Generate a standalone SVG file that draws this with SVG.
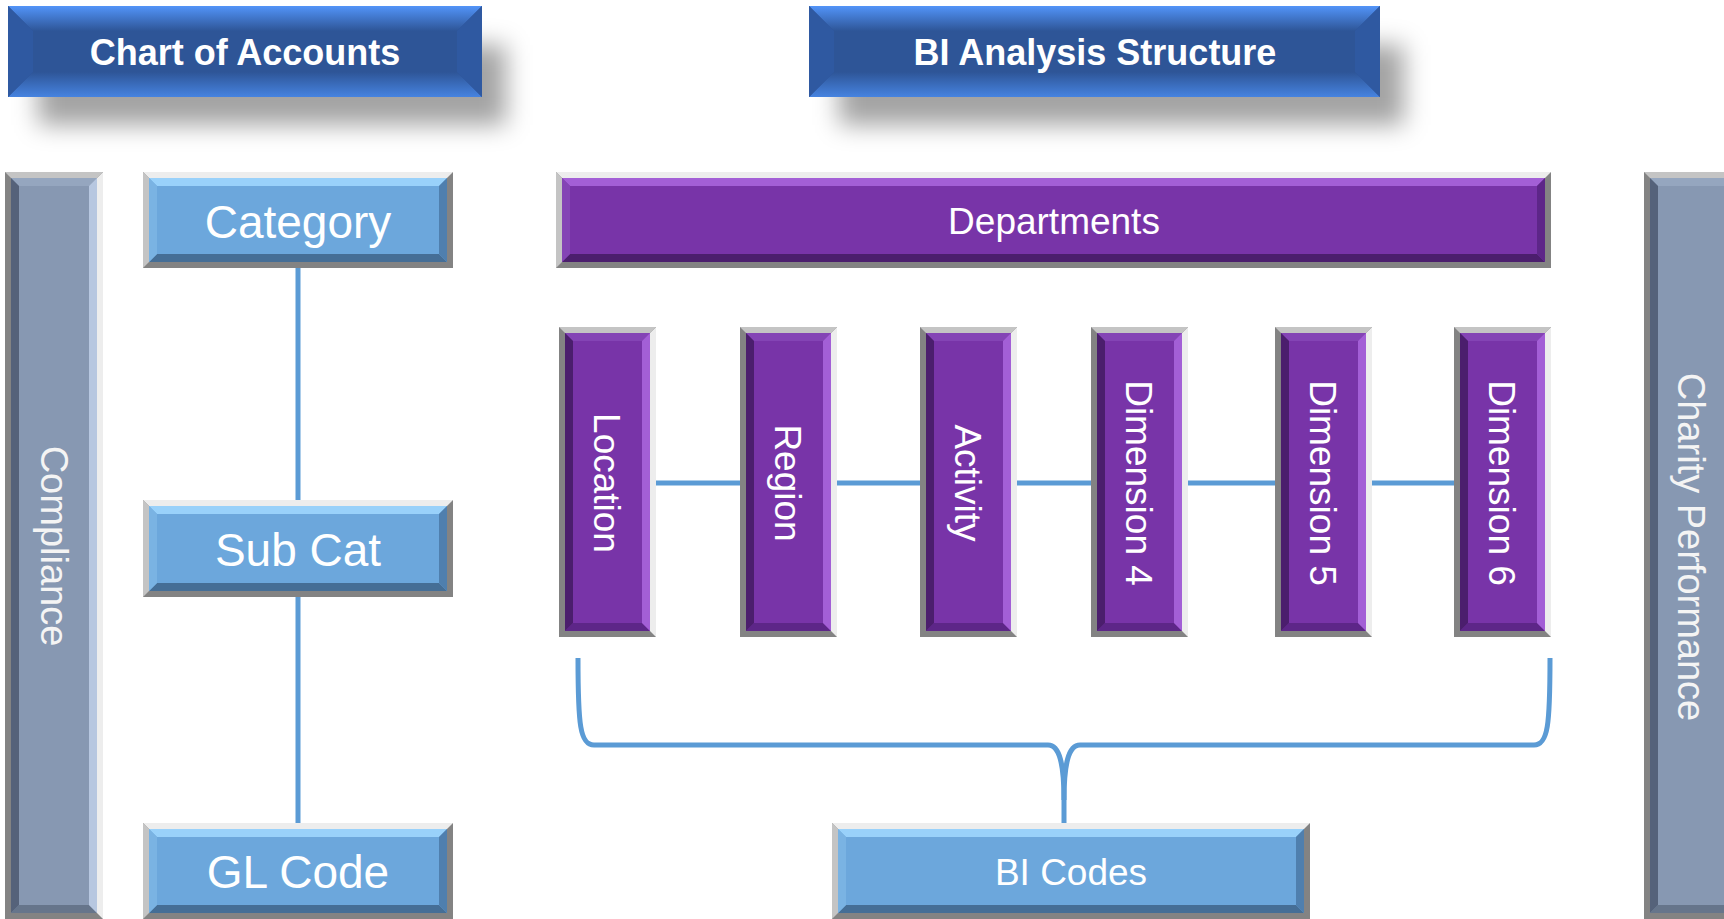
<svg xmlns="http://www.w3.org/2000/svg" width="1724" height="919" viewBox="0 0 1724 919">
<style>
text{font-family:"Liberation Sans",Arial,sans-serif;fill:#fff}
.hdr{font-size:36px;font-weight:bold;text-anchor:middle}
.lbl{font-size:46px;text-anchor:middle}
.lbs{font-size:37px;text-anchor:middle}
.lbg{font-size:38px;text-anchor:middle;fill:#f4f4f4}
.fbase{fill:#838383}.fa{fill:#ededed}.fb{fill:#c4c4c4}
.blue .face{fill:#6ca7dc}.blue .hi{fill:#99d1fa}.blue .m1{fill:#7ab3e3}.blue .m2{fill:#4f7fae}.blue .lo{fill:#456e96}
.purple .face{fill:#7834a8}.purple .hi{fill:#a35fd6}.purple .m1{fill:#8444b5}.purple .m2{fill:#5d2688}.purple .lo{fill:#4b1e6d}
.gray .face{fill:#8798b2}.gray .hi{fill:#b7c7e0}.gray .m1{fill:#95a6bf}.gray .m2{fill:#66758b}.gray .lo{fill:#55627a}
.conn{stroke:#5b9bd5;stroke-width:5;fill:none}
.shadow{fill:#000;fill-opacity:0.36;filter:url(#blur)}
.hface{fill:#2e5597}.hside{fill:#2f59a1}
</style>
<defs>
<filter id="blur" x="-20%" y="-60%" width="140%" height="220%"><feGaussianBlur stdDeviation="12"/></filter>
<linearGradient id="hTop" x1="0" y1="0" x2="0" y2="1"><stop offset="0" stop-color="#5294f8"/><stop offset="1" stop-color="#2e5597"/></linearGradient>
<linearGradient id="hBot" x1="0" y1="0" x2="0" y2="1"><stop offset="0" stop-color="#2e5597"/><stop offset="1" stop-color="#4683e0"/></linearGradient>
</defs>
<rect width="1724" height="919" fill="#fff"/>

<g id="chart-of-accounts">
<rect class="shadow" x="38" y="45" width="468" height="80"/>
<rect class="hface" x="8" y="6" width="474" height="91"/>
<polygon fill="url(#hTop)" points="8,6 482,6 457,31 33,31"/>
<polygon fill="url(#hBot)" points="8,97 482,97 457,72 33,72"/>
<polygon class="hside" points="8,6 33,31 33,72 8,97"/>
<polygon class="hside" points="482,6 457,31 457,72 482,97"/>
<text class="hdr" x="245" y="65">Chart of Accounts</text>
</g>

<g id="bi-analysis-structure">
<rect class="shadow" x="839" y="45" width="565" height="80"/>
<rect class="hface" x="809" y="6" width="571" height="91"/>
<polygon fill="url(#hTop)" points="809,6 1380,6 1355,31 834,31"/>
<polygon fill="url(#hBot)" points="809,97 1380,97 1355,72 834,72"/>
<polygon class="hside" points="809,6 834,31 834,72 809,97"/>
<polygon class="hside" points="1380,6 1355,31 1355,72 1380,97"/>
<text class="hdr" x="1095" y="65">BI Analysis Structure</text>
</g>

<g id="connectors">
<line class="conn" x1="298" y1="268" x2="298" y2="500"/>
<line class="conn" x1="298" y1="597" x2="298" y2="823"/>
<line class="conn" x1="656" y1="483" x2="740" y2="483"/>
<line class="conn" x1="837" y1="483" x2="920" y2="483"/>
<line class="conn" x1="1017" y1="483" x2="1091" y2="483"/>
<line class="conn" x1="1188" y1="483" x2="1275" y2="483"/>
<line class="conn" x1="1372" y1="483" x2="1454" y2="483"/>
<path class="conn" d="M578,658 C578,725 580,745 594,745 L1048,745 C1060,745 1064,765 1064,800 L1064,823"/>
<path class="conn" d="M1550,658 C1550,725 1548,745 1534,745 L1080,745 C1068,745 1064,765 1064,800"/>
</g>

<g id="compliance" class="gray">
<rect class="fbase" x="5" y="172" width="98" height="747"/>
<polygon class="fa" points="103,172 103,919 97,913 97,178"/>
<polygon class="fb" points="5,172 103,172 97,178 11,178"/>
<rect class="face" x="11" y="178" width="86" height="735"/>
<polygon class="m1" points="11,178 97,178 89,186 19,186"/>
<polygon class="m2" points="11,913 97,913 89,905 19,905"/>
<polygon class="lo" points="11,178 19,186 19,905 11,913"/>
<polygon class="hi" points="97,178 89,186 89,905 97,913"/>
<text class="lbg" transform="translate(54,546) rotate(90)" y="13">Compliance</text>
</g>

<g id="charity-performance" class="gray">
<rect class="fbase" x="1644" y="172" width="98" height="747"/>
<polygon class="fa" points="1742,172 1742,919 1736,913 1736,178"/>
<polygon class="fb" points="1644,172 1742,172 1736,178 1650,178"/>
<rect class="face" x="1650" y="178" width="86" height="735"/>
<polygon class="m1" points="1650,178 1736,178 1728,186 1658,186"/>
<polygon class="m2" points="1650,913 1736,913 1728,905 1658,905"/>
<polygon class="lo" points="1650,178 1658,186 1658,905 1650,913"/>
<polygon class="hi" points="1736,178 1728,186 1728,905 1736,913"/>
<text class="lbg" transform="translate(1691,547) rotate(90)" y="13">Charity Performance</text>
</g>

<g id="category" class="blue">
<rect class="fbase" x="143" y="172" width="310" height="96"/>
<polygon class="fa" points="143,172 453,172 447,178 149,178"/>
<polygon class="fb" points="143,172 149,178 149,262 143,268"/>
<rect class="face" x="149" y="178" width="298" height="84"/>
<polygon class="hi" points="149,178 447,178 439,186 157,186"/>
<polygon class="lo" points="149,262 447,262 439,254 157,254"/>
<polygon class="m1" points="149,178 157,186 157,254 149,262"/>
<polygon class="m2" points="447,178 439,186 439,254 447,262"/>
<text class="lbl" x="298" y="238">Category</text>
</g>

<g id="sub-cat" class="blue">
<rect class="fbase" x="143" y="500" width="310" height="97"/>
<polygon class="fa" points="143,500 453,500 447,506 149,506"/>
<polygon class="fb" points="143,500 149,506 149,591 143,597"/>
<rect class="face" x="149" y="506" width="298" height="85"/>
<polygon class="hi" points="149,506 447,506 439,514 157,514"/>
<polygon class="lo" points="149,591 447,591 439,583 157,583"/>
<polygon class="m1" points="149,506 157,514 157,583 149,591"/>
<polygon class="m2" points="447,506 439,514 439,583 447,591"/>
<text class="lbl" x="298" y="566">Sub Cat</text>
</g>

<g id="gl-code" class="blue">
<rect class="fbase" x="143" y="823" width="310" height="96"/>
<polygon class="fa" points="143,823 453,823 447,829 149,829"/>
<polygon class="fb" points="143,823 149,829 149,913 143,919"/>
<rect class="face" x="149" y="829" width="298" height="84"/>
<polygon class="hi" points="149,829 447,829 439,837 157,837"/>
<polygon class="lo" points="149,913 447,913 439,905 157,905"/>
<polygon class="m1" points="149,829 157,837 157,905 149,913"/>
<polygon class="m2" points="447,829 439,837 439,905 447,913"/>
<text class="lbl" x="298" y="888">GL Code</text>
</g>

<g id="departments" class="purple">
<rect class="fbase" x="556" y="172" width="995" height="96"/>
<polygon class="fa" points="556,172 1551,172 1545,178 562,178"/>
<polygon class="fb" points="556,172 562,178 562,262 556,268"/>
<rect class="face" x="562" y="178" width="983" height="84"/>
<polygon class="hi" points="562,178 1545,178 1537,186 570,186"/>
<polygon class="lo" points="562,262 1545,262 1537,254 570,254"/>
<polygon class="m1" points="562,178 570,186 570,254 562,262"/>
<polygon class="m2" points="1545,178 1537,186 1537,254 1545,262"/>
<text class="lbs" x="1054" y="234">Departments</text>
</g>

<g id="location" class="purple">
<rect class="fbase" x="559" y="327" width="97" height="310"/>
<polygon class="fa" points="656,327 656,637 650,631 650,333"/>
<polygon class="fb" points="559,327 656,327 650,333 565,333"/>
<rect class="face" x="565" y="333" width="85" height="298"/>
<polygon class="m1" points="565,333 650,333 642,341 573,341"/>
<polygon class="m2" points="565,631 650,631 642,623 573,623"/>
<polygon class="lo" points="565,333 573,341 573,623 565,631"/>
<polygon class="hi" points="650,333 642,341 642,623 650,631"/>
<text class="lbs" transform="translate(607,483) rotate(90)" y="13">Location</text>
</g>

<g id="region" class="purple">
<rect class="fbase" x="740" y="327" width="97" height="310"/>
<polygon class="fa" points="837,327 837,637 831,631 831,333"/>
<polygon class="fb" points="740,327 837,327 831,333 746,333"/>
<rect class="face" x="746" y="333" width="85" height="298"/>
<polygon class="m1" points="746,333 831,333 823,341 754,341"/>
<polygon class="m2" points="746,631 831,631 823,623 754,623"/>
<polygon class="lo" points="746,333 754,341 754,623 746,631"/>
<polygon class="hi" points="831,333 823,341 823,623 831,631"/>
<text class="lbs" transform="translate(788,483) rotate(90)" y="13">Region</text>
</g>

<g id="activity" class="purple">
<rect class="fbase" x="920" y="327" width="97" height="310"/>
<polygon class="fa" points="1017,327 1017,637 1011,631 1011,333"/>
<polygon class="fb" points="920,327 1017,327 1011,333 926,333"/>
<rect class="face" x="926" y="333" width="85" height="298"/>
<polygon class="m1" points="926,333 1011,333 1003,341 934,341"/>
<polygon class="m2" points="926,631 1011,631 1003,623 934,623"/>
<polygon class="lo" points="926,333 934,341 934,623 926,631"/>
<polygon class="hi" points="1011,333 1003,341 1003,623 1011,631"/>
<text class="lbs" transform="translate(968,483) rotate(90)" y="13">Activity</text>
</g>

<g id="dimension-4" class="purple">
<rect class="fbase" x="1091" y="327" width="97" height="310"/>
<polygon class="fa" points="1188,327 1188,637 1182,631 1182,333"/>
<polygon class="fb" points="1091,327 1188,327 1182,333 1097,333"/>
<rect class="face" x="1097" y="333" width="85" height="298"/>
<polygon class="m1" points="1097,333 1182,333 1174,341 1105,341"/>
<polygon class="m2" points="1097,631 1182,631 1174,623 1105,623"/>
<polygon class="lo" points="1097,333 1105,341 1105,623 1097,631"/>
<polygon class="hi" points="1182,333 1174,341 1174,623 1182,631"/>
<text class="lbs" transform="translate(1139,483) rotate(90)" y="13">Dimension 4</text>
</g>

<g id="dimension-5" class="purple">
<rect class="fbase" x="1275" y="327" width="97" height="310"/>
<polygon class="fa" points="1372,327 1372,637 1366,631 1366,333"/>
<polygon class="fb" points="1275,327 1372,327 1366,333 1281,333"/>
<rect class="face" x="1281" y="333" width="85" height="298"/>
<polygon class="m1" points="1281,333 1366,333 1358,341 1289,341"/>
<polygon class="m2" points="1281,631 1366,631 1358,623 1289,623"/>
<polygon class="lo" points="1281,333 1289,341 1289,623 1281,631"/>
<polygon class="hi" points="1366,333 1358,341 1358,623 1366,631"/>
<text class="lbs" transform="translate(1323,483) rotate(90)" y="13">Dimension 5</text>
</g>

<g id="dimension-6" class="purple">
<rect class="fbase" x="1454" y="327" width="97" height="310"/>
<polygon class="fa" points="1551,327 1551,637 1545,631 1545,333"/>
<polygon class="fb" points="1454,327 1551,327 1545,333 1460,333"/>
<rect class="face" x="1460" y="333" width="85" height="298"/>
<polygon class="m1" points="1460,333 1545,333 1537,341 1468,341"/>
<polygon class="m2" points="1460,631 1545,631 1537,623 1468,623"/>
<polygon class="lo" points="1460,333 1468,341 1468,623 1460,631"/>
<polygon class="hi" points="1545,333 1537,341 1537,623 1545,631"/>
<text class="lbs" transform="translate(1502,483) rotate(90)" y="13">Dimension 6</text>
</g>

<g id="bi-codes" class="blue">
<rect class="fbase" x="832" y="823" width="478" height="96"/>
<polygon class="fa" points="832,823 1310,823 1304,829 838,829"/>
<polygon class="fb" points="832,823 838,829 838,913 832,919"/>
<rect class="face" x="838" y="829" width="466" height="84"/>
<polygon class="hi" points="838,829 1304,829 1296,837 846,837"/>
<polygon class="lo" points="838,913 1304,913 1296,905 846,905"/>
<polygon class="m1" points="838,829 846,837 846,905 838,913"/>
<polygon class="m2" points="1304,829 1296,837 1296,905 1304,913"/>
<text class="lbs" x="1071" y="885">BI Codes</text>
</g>
</svg>
